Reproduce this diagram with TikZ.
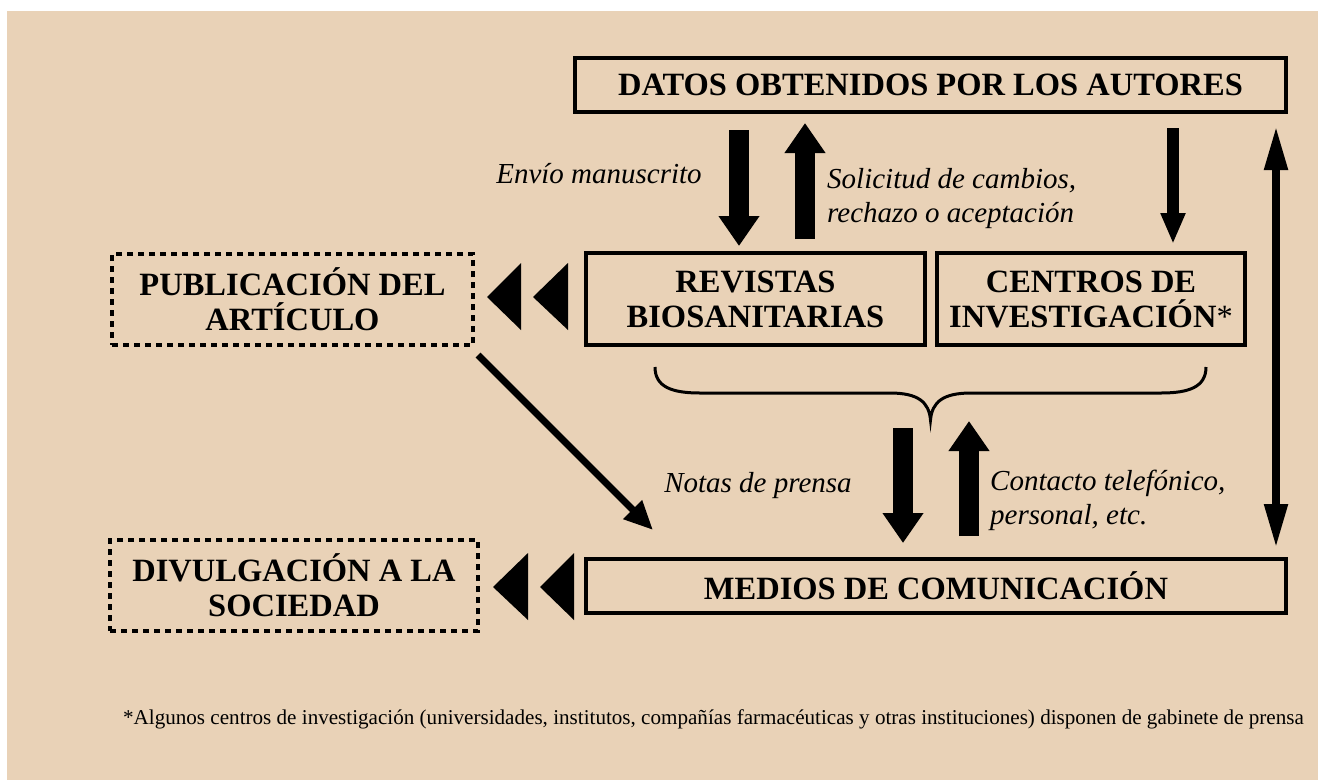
\documentclass[tikz,border=0pt]{standalone}
\usepackage{fontspec}
\setmainfont{Liberation Serif}
\usetikzlibrary{arrows.meta}
\definecolor{beige}{RGB}{233,210,183}
\tikzset{
  box/.style={draw, line width=4pt, inner sep=0pt, align=center,
    font=\bfseries\fontsize{32.5}{35}\selectfont},
  dotbox/.style={box, dash pattern=on 6pt off 5pt},
  lbl/.style={font=\itshape\fontsize{29}{34}\selectfont, inner sep=0pt, align=left},
  blk/.style={line width=20pt, -{Triangle[width=39pt,length=30pt]}},
  thin arrow/.style={line width=12pt, -{Triangle[width=23pt,length=31pt]}},
  tri/.style={fill=black},
}
\begin{document}
\begin{tikzpicture}[x=1pt,y=-1pt]
\useasboundingbox (0,0) rectangle (1318,780);
\fill[white] (0,0) rectangle (1318,780);
\fill[beige] (7,11) rectangle (1318,780);

% boxes
\node[box, minimum width=711pt, minimum height=54pt] (datos) at (930.5,85) {DATOS OBTENIDOS POR LOS AUTORES};
\node[box, minimum width=339pt, minimum height=92pt] (rev) at (755.5,299) {REVISTAS\\BIOSANITARIAS};
\node[box, minimum width=308pt, minimum height=92pt] (cen) at (1091,299) {CENTROS DE\\INVESTIGACIÓN{\mdseries *}};
\node[dotbox, minimum width=361pt, minimum height=91pt] (pub) at (292.5,299.5) {PUBLICACIÓN DEL\\ARTÍCULO};
\node[dotbox, minimum width=368pt, minimum height=91pt] (div) at (294,585.5) {DIVULGACIÓN A LA\\SOCIEDAD};
\node[box, minimum width=700pt, minimum height=54pt] (med) at (936,586) {MEDIOS DE COMUNICACIÓN};

% arrow end points
\coordinate (a1s) at (739,130); \coordinate (a1e) at (739,246);
\coordinate (a2s) at (805,239); \coordinate (a2e) at (805,123);
\coordinate (a3s) at (1173,128); \coordinate (a3e) at (1173,244);
\coordinate (a4s) at (903,428); \coordinate (a4e) at (903,543);
\coordinate (a5s) at (969,536); \coordinate (a5e) at (969,421);
\coordinate (a6s) at (1276,126); \coordinate (a6e) at (1276,548);
\coordinate (a7s) at (478,355); \coordinate (a7e) at (653,530);

\draw[blk] (a1s) -- (a1e);
\draw[blk] (a2s) -- (a2e);
\draw[thin arrow] (a3s) -- (a3e);
\draw[blk] (a4s) -- (a4e);
\draw[blk] (a5s) -- (a5e);
\draw[line width=8pt, {Triangle[width=22pt,length=44pt]}-{Triangle[width=22pt,length=44pt]}] (a6s) -- (a6e);
\draw[line width=7pt, -{Triangle[width=25pt,length=29pt]}] (a7s) -- (a7e);

% double triangles
\fill[tri] (487,297) -- (521,263) -- (521,330) -- cycle;
\fill[tri] (533,297) -- (568,263) -- (568,330) -- cycle;
\fill[tri] (493,587) -- (528,553) -- (528,620) -- cycle;
\fill[tri] (540,587) -- (574,553) -- (574,620) -- cycle;

% brace
\draw[line width=3pt] (655,367) .. controls (655,387) and (672,393) .. (700,393)
  -- (890,393) .. controls (918,393) and (929,402) .. (930.5,420)
  .. controls (932,402) and (943,393) .. (971,393)
  -- (1161,393) .. controls (1189,393) and (1206,387) .. (1206,367);

% labels
\node[lbl, anchor=base] (l1) at (599,183) {Envío manuscrito};
\node[lbl, anchor=base west] (l2) at (827,222) {Solicitud de cambios,\\rechazo o aceptación};
\node[lbl, anchor=base] (l3) at (758,492) {Notas de prensa};
\node[lbl, anchor=base west] (l4) at (990,524) {Contacto telefónico,\\personal, etc.};

\node[font=\fontsize{21.1}{24}\selectfont, inner sep=0pt, anchor=base] (fn) at (713.5,724) {*Algunos centros de investigación (universidades, institutos, compañías farmacéuticas y otras instituciones) disponen de gabinete de prensa};
\end{tikzpicture}
\end{document}
